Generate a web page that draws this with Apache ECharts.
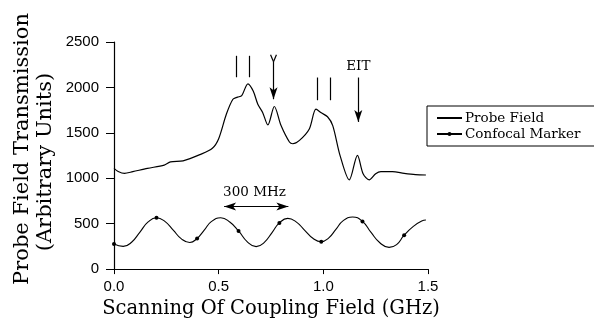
<!DOCTYPE html>
<html>
<head>
<meta charset="utf-8">
<script src="https://cdn.jsdelivr.net/npm/echarts@6/dist/echarts.min.js"></script>
<style>
  html, body { margin: 0; padding: 0; background: #fff; }
  #chart { width: 594px; height: 324px; }
</style>
</head>
<body>
<div id="chart"></div>
<script>
// probe field transmission trace (GHz, arbitrary units)
const probeFreq = [0.0, 0.02, 0.05, 0.09, 0.16, 0.24, 0.27, 0.33, 0.41, 0.47, 0.50, 0.537, 0.568, 0.59, 0.61, 0.64,
  0.665, 0.687, 0.71, 0.735, 0.766, 0.798, 0.838, 0.854, 0.886, 0.933, 0.965, 0.99, 1.02, 1.045, 1.08, 1.124,
  1.163, 1.19, 1.219, 1.25, 1.275, 1.33, 1.386, 1.44, 1.49]
const probeValues = [1109, 1075, 1054, 1073, 1109, 1145, 1181, 1192, 1260, 1330, 1435, 1707, 1870, 1893, 1910, 2040,
  1960, 1815, 1725, 1587, 1790, 1580, 1399, 1380, 1417, 1543, 1761, 1720, 1677, 1580, 1250, 982,
  1253, 1050, 982, 1050, 1073, 1073, 1054, 1040, 1036]

// confocal marker trace, 1 = dot drawn at that point
const markerFreq = [0.0, 0.044, 0.084, 0.124, 0.163, 0.203, 0.243, 0.283, 0.322, 0.362, 0.397, 0.431, 0.466, 0.51,
  0.553, 0.595, 0.637, 0.679, 0.717, 0.755, 0.79, 0.83, 0.87, 0.91, 0.95, 0.99, 1.025, 1.06, 1.095, 1.14,
  1.187, 1.227, 1.27, 1.314, 1.35, 1.386, 1.43, 1.47, 1.49]
const markerValues = [275, 250, 296, 408, 519, 565, 525, 429, 333, 293, 338, 429, 525, 565,
  518, 420, 300, 247, 292, 402, 508, 558, 520, 430, 339, 301, 341, 437, 534, 574,
  525, 406, 290, 239, 270, 373, 470, 530, 540]
const markerDots = [1, 0, 0, 0, 0, 1, 0, 0, 0, 0, 1, 0, 0, 0, 0, 1, 0, 0, 0, 0, 1, 0, 0, 0, 0, 1, 0, 0, 0, 0,
  1, 0, 0, 0, 0, 1, 0, 0, 0]

// annotations: vertical bars [x, y from, y to], arrows [x, y from, y to]
const bars = [[0.584, 2112, 2348], [0.644, 2112, 2348], [0.973, 1859, 2109], [1.033, 1859, 2109]]
const downArrows = [[0.762, 2283, 1870], [1.167, 2109, 1620]]
const vBranches = [[0.748, 2359, 0.762, 2283], [0.776, 2359, 0.762, 2283]]
const spanArrow = [0.526, 0.833, 690]
const labels = [[1.167, 2228, 'EIT'], [0.671, 840, '300 MHz']]

const xTicks = ['0.0', '0.5', '1.0', '1.5']

const serif = 'DejaVu Serif'
const sans = 'Liberation Sans'

var chart = echarts.init(document.getElementById('chart'))

const markLines = []
bars.forEach(b => markLines.push([{ coord: [b[0], b[1]], symbol: 'none' }, { coord: [b[0], b[2]], symbol: 'none' }]))
downArrows.forEach(a => markLines.push([{ coord: [a[0], a[1]], symbol: 'none' }, { coord: [a[0], a[2]], symbol: 'arrow' }]))
vBranches.forEach(v => markLines.push([{ coord: [v[0], v[1]], symbol: 'none' }, { coord: [v[2], v[3]], symbol: 'none' }]))
markLines.push([{ coord: [spanArrow[0], spanArrow[2]], symbol: 'arrow' }, { coord: [spanArrow[1], spanArrow[2]], symbol: 'arrow' }])

const option = {
  animation: false,
  grid: { left: 114, right: 166, top: 42, bottom: 52 },
  legend: {
    orient: 'vertical',
    left: 427,
    top: 106,
    padding: [5, 70, 5, 9],
    borderColor: '#000',
    borderWidth: 1,
    borderRadius: 0,
    itemWidth: 25,
    itemHeight: 5,
    itemGap: 2,
    textStyle: { fontFamily: serif, fontSize: 13.5, color: '#000', padding: [0, 0, 0, -2] },
    data: [
      { name: 'Probe Field', itemStyle: { opacity: 0 } },
      { name: 'Confocal Marker' }
    ]
  },
  xAxis: {
    type: 'value',
    min: 0,
    max: 1.5,
    interval: 0.5,
    name: 'Scanning Of Coupling Field (GHz)',
    nameLocation: 'middle',
    nameGap: 25,
    nameTextStyle: { fontFamily: serif, fontSize: 19.5, color: '#000' },
    axisLine: { lineStyle: { color: '#000', width: 1.2 } },
    axisTick: { length: 5, lineStyle: { color: '#000' } },
    axisLabel: {
      margin: 10,
      fontFamily: sans, fontSize: 15, color: '#000',
      formatter: v => xTicks[Math.round(v / 0.5)]
    },
    splitLine: { show: false }
  },
  yAxis: {
    type: 'value',
    min: 0,
    max: 2500,
    interval: 500,
    axisLine: { show: true, lineStyle: { color: '#000', width: 1.2 } },
    axisTick: { show: true, length: 8, lineStyle: { color: '#000' } },
    axisLabel: { margin: 15, fontFamily: sans, fontSize: 15, color: '#000', formatter: v => String(v) },
    splitLine: { show: false }
  },
  graphic: [
    {
      type: 'text', x: 23, y: 149, rotation: Math.PI / 2,
      style: { text: 'Probe Field Transmission', font: '21px "DejaVu Serif"', fill: '#000', align: 'center', verticalAlign: 'middle' }
    },
    {
      type: 'text', x: 46, y: 162, rotation: Math.PI / 2,
      style: { text: '(Arbitrary Units)', font: '21px "DejaVu Serif"', fill: '#000', align: 'center', verticalAlign: 'middle' }
    }
  ],
  series: [
    {
      name: 'Probe Field',
      type: 'line',
      data: probeFreq.map((f, i) => [f, probeValues[i]]),
      smooth: 0.3,
      symbol: 'none',
      lineStyle: { color: '#000', width: 1.2 },
      itemStyle: { color: '#000' },
      silent: true,
      markLine: {
        silent: true,
        symbolSize: [6, 12],
        label: { show: false },
        lineStyle: { color: '#000', width: 1.2, type: 'solid' },
        data: markLines
      },
      markPoint: {
        silent: true,
        symbol: 'circle',
        symbolSize: 0,
        label: {
          show: true, position: 'inside', color: '#000', fontFamily: serif, fontSize: 13.5,
          formatter: p => p.name
        },
        data: labels.map(l => ({ name: l[2], coord: [l[0], l[1]] }))
      }
    },
    {
      name: 'Confocal Marker',
      type: 'line',
      data: markerFreq.map((f, i) => ({ value: [f, markerValues[i]], symbol: markerDots[i] ? 'circle' : 'none' })),
      smooth: 0.5,
      symbol: 'circle',
      symbolSize: 4,
      showAllSymbol: true,
      lineStyle: { color: '#000', width: 1.1 },
      itemStyle: { color: '#000' },
      silent: true
    }
  ]
}

chart.setOption(option)
</script>
</body>
</html>
